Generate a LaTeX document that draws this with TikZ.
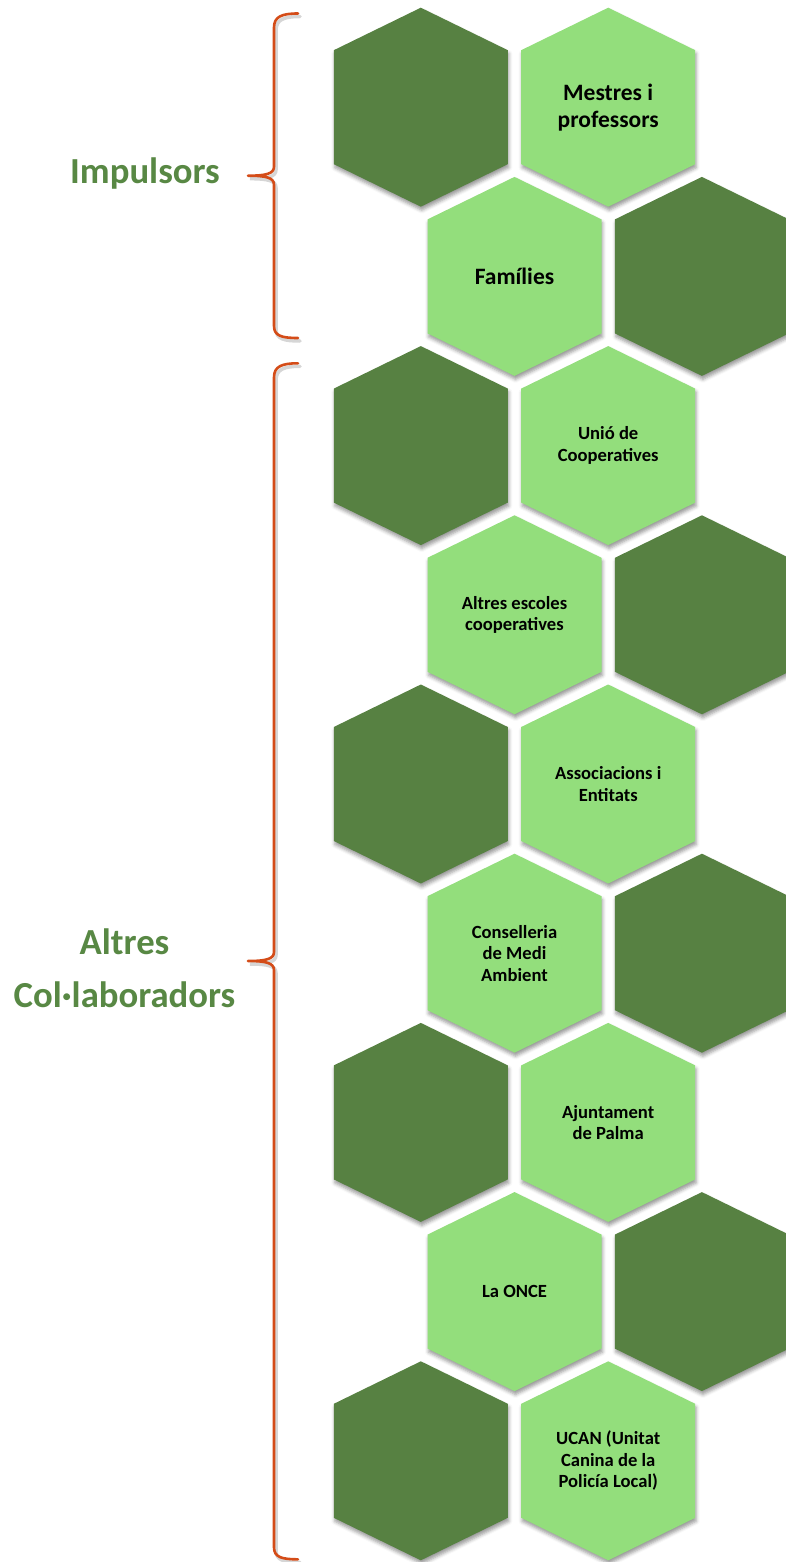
\documentclass[tikz,border=0pt]{standalone}
\usepackage{fontspec}
\setmainfont{Carlito}
\usetikzlibrary{shadows.blur}
\definecolor{darkg}{RGB}{87,129,66}
\definecolor{lightg}{RGB}{147,222,124}
\definecolor{labelg}{RGB}{88,136,68}
\definecolor{bracec}{RGB}{212,76,24}
\newcommand\hexa[3]{\path[#1] (#2,#3) +(0,-99.5) -- +(87,-57) -- +(87,57) -- +(0,99.5) -- +(-87,57) -- +(-87,-57) -- cycle;}
\newcommand\bracepath[3]{(298,#1) .. controls (282,#1) and (274,#1+3) .. (274,#1+14) -- (274,#2-9) .. controls (274,#2-2) and (266,#2) .. (248,#2) .. controls (266,#2) and (274,#2+2) .. (274,#2+9) -- (274,#3-12) .. controls (274,#3-2) and (282,#3) .. (298,#3)}
\begin{document}
\begin{tikzpicture}[x=1pt,y=-1pt,
  hshadow/.style={blur shadow={shadow xshift=1pt, shadow yshift=-3.5pt, shadow blur radius=3.5pt, shadow opacity=40}},
  hexd/.style={fill=darkg, hshadow},
  hexl/.style={fill=lightg, hshadow},
  hext/.style={font=\bfseries\fontsize{18.6}{21.5}\selectfont, align=center, text=black, inner sep=0pt},
  hextbig/.style={font=\bfseries\fontsize{23.5}{27}\selectfont, align=center, text=black, inner sep=0pt},
  lab/.style={font=\bfseries\fontsize{36.7}{53}\selectfont, text=labelg, align=center, inner sep=0pt},
  bracestyle/.style={draw=bracec, line width=2.6pt, line cap=round, line join=round},
  braceshade/.style={draw=black, opacity=0.16, line width=3.5pt, line cap=round}]
\useasboundingbox (0,0) rectangle (786,1562);

% row 0
\hexa{hexd}{420.8}{107.2}
\hexa{hexl}{608.2}{107.2}
\node[hextbig] (mestres) at (608.2,107.2) {Mestres i\\professors};
% row 1
\hexa{hexl}{514.5}{276.4}
\hexa{hexd}{701.9}{276.4}
\node[hextbig] (families) at (514.5,276.4) {Famílies};
% row 2
\hexa{hexd}{420.8}{445.6}
\hexa{hexl}{608.2}{445.6}
\node[hext] (unio) at (608.2,445.6) {Unió de\\Cooperatives};
% row 3
\hexa{hexl}{514.5}{614.8}
\hexa{hexd}{701.9}{614.8}
\node[hext] (altres) at (514.5,614.8) {Altres escoles\\cooperatives};
% row 4
\hexa{hexd}{420.8}{784.0}
\hexa{hexl}{608.2}{784.0}
\node[hext] (assoc) at (608.2,784.0) {Associacions i\\Entitats};
% row 5
\hexa{hexl}{514.5}{953.2}
\hexa{hexd}{701.9}{953.2}
\node[hext] (conse) at (514.5,953.2) {Conselleria\\de Medi\\Ambient};
% row 6
\hexa{hexd}{420.8}{1122.4}
\hexa{hexl}{608.2}{1122.4}
\node[hext] (ajunt) at (608.2,1122.4) {Ajuntament\\de Palma};
% row 7
\hexa{hexl}{514.5}{1291.6}
\hexa{hexd}{701.9}{1291.6}
\node[hext] (once) at (514.5,1291.6) {La ONCE};
% row 8
\hexa{hexd}{420.8}{1460.8}
\hexa{hexl}{608.2}{1460.8}
\node[hext] (ucan) at (608.2,1460.8) {UCAN (Unitat\\Canina de la\\Policía Local)};

% braces
\begin{scope}[shift={(2,3)}]
\draw[braceshade] \bracepath{13.5}{175.7}{338};
\draw[braceshade] \bracepath{363.3}{961}{1559.3};
\end{scope}
\draw[bracestyle] \bracepath{13.5}{175.7}{338};
\draw[bracestyle] \bracepath{363.3}{961}{1559.3};

% labels
\node[lab, anchor=base] (impulsors) at (145,183.3) {Impulsors};
\node[lab] (collab) at (124.5,968.7) {Altres\\Col·laboradors};
\end{tikzpicture}
\end{document}
